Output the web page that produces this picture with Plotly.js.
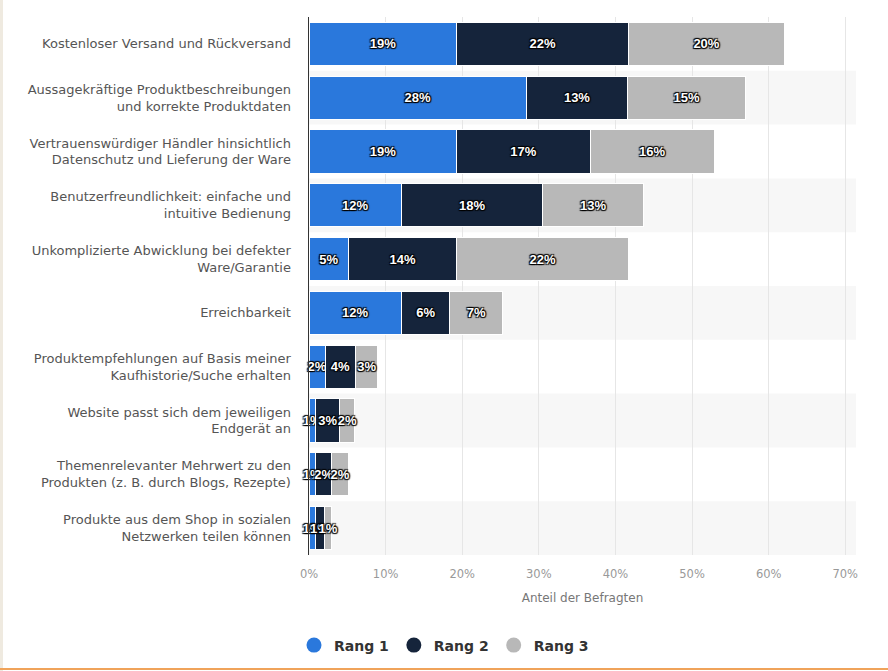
<!DOCTYPE html>
<html><head><meta charset="utf-8">
<script src="https://cdn.plot.ly/plotly-3.0.1.min.js"></script>
<style>
html,body{margin:0;padding:0;background:#fff;}
#wrap{position:relative;width:888px;height:671px;overflow:hidden;}
#chart{width:888px;height:671px;}
#lb{position:absolute;left:0;top:0;width:3px;height:671px;background:#efeae0;}
#bb{position:absolute;left:0;bottom:1px;width:888px;height:2px;background:#f0a35a;}
</style></head>
<body><div id="wrap"><div id="chart"></div><div id="lb"></div><div id="bb"></div></div>
<script>
const categories = [
  "Kostenloser Versand und Rückversand",
  "Aussagekräftige Produktbeschreibungen<br>und korrekte Produktdaten",
  "Vertrauenswürdiger Händler hinsichtlich<br>Datenschutz und Lieferung der Ware",
  "Benutzerfreundlichkeit: einfache und<br>intuitive Bedienung",
  "Unkomplizierte Abwicklung bei defekter<br>Ware/Garantie",
  "Erreichbarkeit",
  "Produktempfehlungen auf Basis meiner<br>Kaufhistorie/Suche erhalten",
  "Website passt sich dem jeweiligen<br>Endgerät an",
  "Themenrelevanter Mehrwert zu den<br>Produkten (z. B. durch Blogs, Rezepte)",
  "Produkte aus dem Shop in sozialen<br>Netzwerken teilen können"
];
const rang1 = [19.3, 28.4, 19.3, 12.1, 5.2, 12.1, 2.1, 0.9, 0.9, 0.8];
const rang2 = [22.4, 13.2, 17.4, 18.4, 14.1, 6.3, 4.0, 3.1, 2.1, 1.2];
const rang3 = [20.4, 15.4, 16.2, 13.2, 22.4, 6.9, 2.9, 2.0, 2.1, 1.0];
const seriesNames = ["Rang 1", "Rang 2", "Rang 3"];
const colors = ["#2a78dc", "#15243b", "#b8b8b8"];
const tickVals = [0,10,20,30,40,50,60,70];
const tickText = ["0%","10%","20%","30%","40%","50%","60%","70%"];

const series = [rang1, rang2, rang3];
const traces = series.map((vals, i) => ({
  type: 'bar', orientation: 'h', x: vals, y: categories, name: seriesNames[i],
  marker: {color: colors[i], line: {color: '#ffffff', width: 1}},
  width: 0.8,
  texttemplate: '%{x:.0f}%', textposition: 'inside', insidetextanchor: 'middle',
  textangle: 0, constraintext: 'none', cliponaxis: false,
  textfont: {family: 'Liberation Sans, Arial, sans-serif', size: 13, color: '#ffffff', weight: 'bold',
             shadow: '1px 1px 1px #000, -1px -1px 1px #000, 1px -1px 1px #000, -1px 1px 1px #000'},
  showlegend: false, hoverinfo: 'skip'
}));
seriesNames.forEach((n, i) => traces.push({
  type: 'scatter', mode: 'markers', x: [null], y: [null], name: n,
  marker: {color: colors[i], size: 15, symbol: 'circle'}, showlegend: true
}));

const shapes = [];
categories.forEach((c, i) => {
  if (i % 2 === 1) shapes.push({type: 'rect', xref: 'paper', yref: 'y', x0: 0, x1: 1,
    y0: i - 0.5, y1: i + 0.5, fillcolor: '#f7f7f7', line: {width: 0}, layer: 'below'});
});

const layout = {
  width: 888, height: 671,
  margin: {l: 309, r: 32, t: 17, b: 116},
  barmode: 'stack', bargap: 0.18,
  paper_bgcolor: '#ffffff', plot_bgcolor: 'rgba(0,0,0,0)',
  font: {family: 'DejaVu Sans, sans-serif', color: '#555'},
  shapes: shapes,
  xaxis: {range: [0, 71.4], tickvals: tickVals, ticktext: tickText, showgrid: true,
          gridcolor: '#e6e6e6', gridwidth: 1, zeroline: false, showline: false,
          tickfont: {size: 11.5, color: '#999'}, ticks: '', fixedrange: true,
          ticklabelstandoff: 10,
          title: {text: 'Anteil der Befragten', font: {size: 12, color: '#777'}, standoff: 14}},
  yaxis: {autorange: 'reversed', showline: true, linecolor: '#333', linewidth: 1.5,
          showgrid: false, ticks: '', ticklabelstandoff: 14,
          tickfont: {size: 13, color: '#555'}},
  legend: {orientation: 'h', xref: 'container', yref: 'container', x: 0.5, xanchor: 'center',
           y: 0.038, yanchor: 'middle', font: {size: 14, color: '#333', weight: 'bold'},
           itemwidth: 30, traceorder: 'normal'},
  showlegend: true
};
Plotly.newPlot('chart', traces, layout, {displayModeBar: false, staticPlot: true});
</script></body></html>
